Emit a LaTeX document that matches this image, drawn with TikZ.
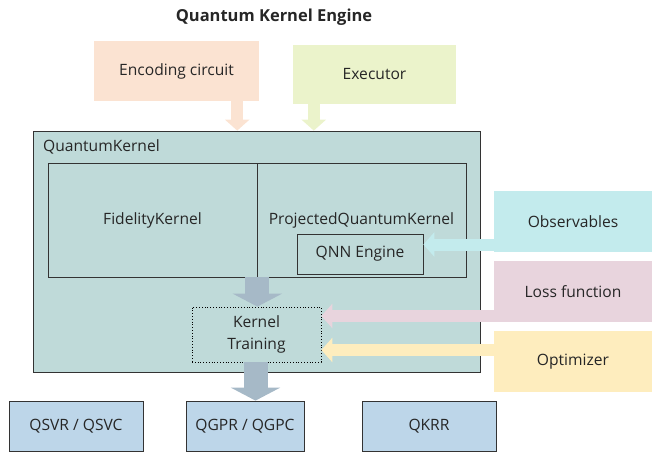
\documentclass[tikz,border=0pt]{standalone}
\usepackage{fontspec}
\setmainfont{Open Sans}
\usetikzlibrary{arrows.meta}
\definecolor{encC}{HTML}{FBE3D2}
\definecolor{exeC}{HTML}{EBF3CB}
\definecolor{qkC}{HTML}{BFDAD9}
\definecolor{obsC}{HTML}{C3EBED}
\definecolor{lossC}{HTML}{E8D4DD}
\definecolor{optC}{HTML}{FEEDBE}
\definecolor{outC}{HTML}{BDD6E9}
\definecolor{grayA}{HTML}{A6B9C7}
\definecolor{lineC}{HTML}{333333}
\tikzset{
  every node/.style={font=\fontsize{15.6}{22}\selectfont, text=black!85, inner sep=0pt},
  fatarrow/.style={draw=#1, line width=12pt, -{Triangle[width=24pt,length=11pt]}},
  grayarrow/.style={draw=grayA, line width=24pt, -{Triangle[width=49pt,length=13pt]}},
  frame/.style={draw=lineC, line width=0.8pt},
}
\begin{document}
\begin{tikzpicture}[x=1pt,y=-1pt]
\useasboundingbox (0,0) rectangle (652,451);
\node[font=\fontsize{16.5}{20}\selectfont\bfseries] (title) at (274,17) {Quantum Kernel Engine};
% inputs on top
\node[fill=encC, minimum width=165pt, minimum height=60pt] (enc) at (176.5,71) {Encoding circuit};
\node[fill=exeC, minimum width=163pt, minimum height=59pt] (exe) at (374.5,74.5) {Executor};
% QuantumKernel
\node[frame, fill=qkC, minimum width=447pt, minimum height=241pt] (qk) at (256.5,251.5) {};
\node[anchor=west] (qklabel) at (43,147) {QuantumKernel};
\node[frame, minimum width=209pt, minimum height=114pt] (fid) at (152.5,220) {FidelityKernel};
\node[frame, minimum width=209pt, minimum height=114pt] (proj) at (361.5,220) {ProjectedQuantumKernel};
\node[frame, minimum width=126pt, minimum height=40pt] (qnn) at (360,254) {QNN Engine};
\node[draw=black, dotted, line width=0.8pt, minimum width=129pt, minimum height=55pt, align=center] (kt) at (256.5,334.5) {Kernel\\Training};
% side inputs
\node[fill=obsC, minimum width=158pt, minimum height=61pt] (obs) at (573,221.5) {Observables};
\node[fill=lossC, minimum width=158pt, minimum height=61pt] (loss) at (573,291.5) {Loss function};
\node[fill=optC, minimum width=158pt, minimum height=61pt] (opt) at (573,361.5) {Optimizer};
% outputs
\node[frame, fill=outC, minimum width=134pt, minimum height=50pt] (qsvr) at (76,426) {QSVR / QSVC};
\node[frame, fill=outC, minimum width=118pt, minimum height=50pt] (qgpr) at (245,426) {QGPR / QGPC};
\node[frame, fill=outC, minimum width=134pt, minimum height=50pt] (qkrr) at (429,426) {QKRR};
% arrows
\draw[fatarrow=encC] ([xshift=-22pt]enc.south east) -- ([xshift=-22pt]enc.south east |- qk.north);
\draw[fatarrow=exeC] ([xshift=21pt]exe.south west) -- ([xshift=21pt]exe.south west |- qk.north);
\draw[fatarrow=obsC] ([yshift=-23pt]obs.west) -- ([yshift=-23pt]obs.west -| qnn.east);
\draw[fatarrow=lossC] ([yshift=-24.5pt]loss.west) -- ([yshift=-24.5pt]loss.west -| kt.east);
\draw[fatarrow=optC] ([yshift=11.5pt]opt.west) -- ([yshift=11.5pt]opt.west -| kt.east);
\draw[grayarrow] (fid.south east) -- (fid.south east |- kt.north);
\draw[grayarrow] ([xshift=-1pt]kt.south) -- ([xshift=-1pt]kt.south |- qgpr.north);
\end{tikzpicture}
\end{document}
